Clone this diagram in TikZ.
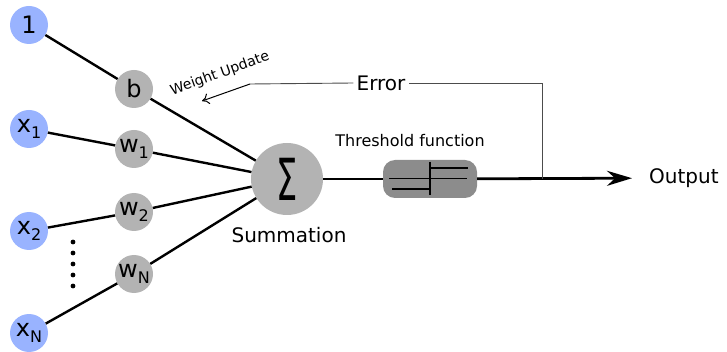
\documentclass[tikz,border=0pt]{standalone}
\usepackage{graphicx}
\usepackage{fontspec}
\setmainfont{DejaVu Sans}
\usetikzlibrary{arrows.meta}
\definecolor{inblue}{RGB}{153,179,255}
\definecolor{wgray}{RGB}{179,179,179}
\definecolor{boxgray}{RGB}{140,140,140}
\newcommand{\sublbl}[2]{#1\raisebox{-0.45ex}{\fontsize{16}{16}\selectfont #2}}

\begin{document}
\begin{tikzpicture}[x=1pt,y=-1pt,
  inp/.style={circle,fill=inblue,minimum size=38pt,inner sep=0pt,font=\fontsize{24}{24}\selectfont},
  wgt/.style={circle,fill=wgray,minimum size=38pt,inner sep=0pt,font=\fontsize{24}{24}\selectfont},
  edge/.style={line width=2.4pt},
  errline/.style={line width=0.9pt,black!70}]
\useasboundingbox (0,0) rectangle (727,352);

% eingaenge
\node[inp] (one) at (29,25) {1};
\node[inp] (x1) at (29,129) {\sublbl{x}{1}};
\node[inp] (x2) at (29,231) {\sublbl{x}{2}};
\node[inp] (xN) at (29,333) {\sublbl{x}{N}};

% gewichte
\node[wgt] (b) at (134,89) {b};
\node[wgt] (w1) at (134,149) {\sublbl{w}{1}};
\node[wgt] (w2) at (134,212) {\sublbl{w}{2}};
\node[wgt] (wN) at (134,274) {\sublbl{w}{N}};

% summe
\node[circle,fill=wgray,minimum size=72pt,inner sep=0pt] (sum) at (287,179) {\fontsize{58}{58}\selectfont\scalebox{0.58}[1]{Σ}};
\node[font=\fontsize{20}{20}\selectfont] (sumlbl) at (289,235) {Summation};

\foreach \a/\w in {one/b,x1/w1,x2/w2,xN/wN} {
\draw[edge] (\a) -- (\w);
\draw[edge] (\w) -- (sum);
}
\foreach \y in {242,253,...,286} {
\fill (73,\y) circle (2.4pt);
}

% schwelle
\node[rounded corners=12pt,fill=boxgray,minimum width=94pt,minimum height=38pt] (th) at (430,179) {};
\node[font=\fontsize{16}{16}\selectfont] (thlbl) at (410,141) {Threshold function};
\draw[line width=0.8pt] ([shift={(-41,-1)}]th.center) -- ([shift={(37,-1)}]th.center);
\draw[line width=1.5pt] ([shift={(-38,10)}]th.center) -- ([shift={(0,10)}]th.center)
  -- ([shift={(0,-11)}]th.center) -- ([shift={(38,-11)}]th.center);
\draw[line width=1.5pt] ([shift={(0,-17)}]th.center) -- ([shift={(0,16)}]th.center);

% ausgang
\node[font=\fontsize{20}{20}\selectfont,inner sep=0pt,anchor=west] (out) at (649,178) {Output};
\draw[line width=2.8pt] (sum) -- (th);
\draw[line width=2.8pt,-{Stealth[length=25pt,width=15pt]},shorten >=17pt] (th) -- (out);

% fehler
\coordinate (tap) at (542,179);
\coordinate (bend) at (250,84);
\coordinate (wtip) at (202,101);
\node[font=\fontsize{20}{20}\selectfont,inner sep=3pt] (err) at (381,83) {Error};
\draw[errline] (tap) |- (err.east);
\draw[errline] (err.west) -- (bend);
\draw[line width=1pt,-{To[length=7pt,width=11pt]}] (bend) -- (wtip);
\node[font=\fontsize{14}{14}\selectfont,rotate=20,inner sep=0pt] (wu) at (220,74) {Weight Update};

\end{tikzpicture}
\end{document}
